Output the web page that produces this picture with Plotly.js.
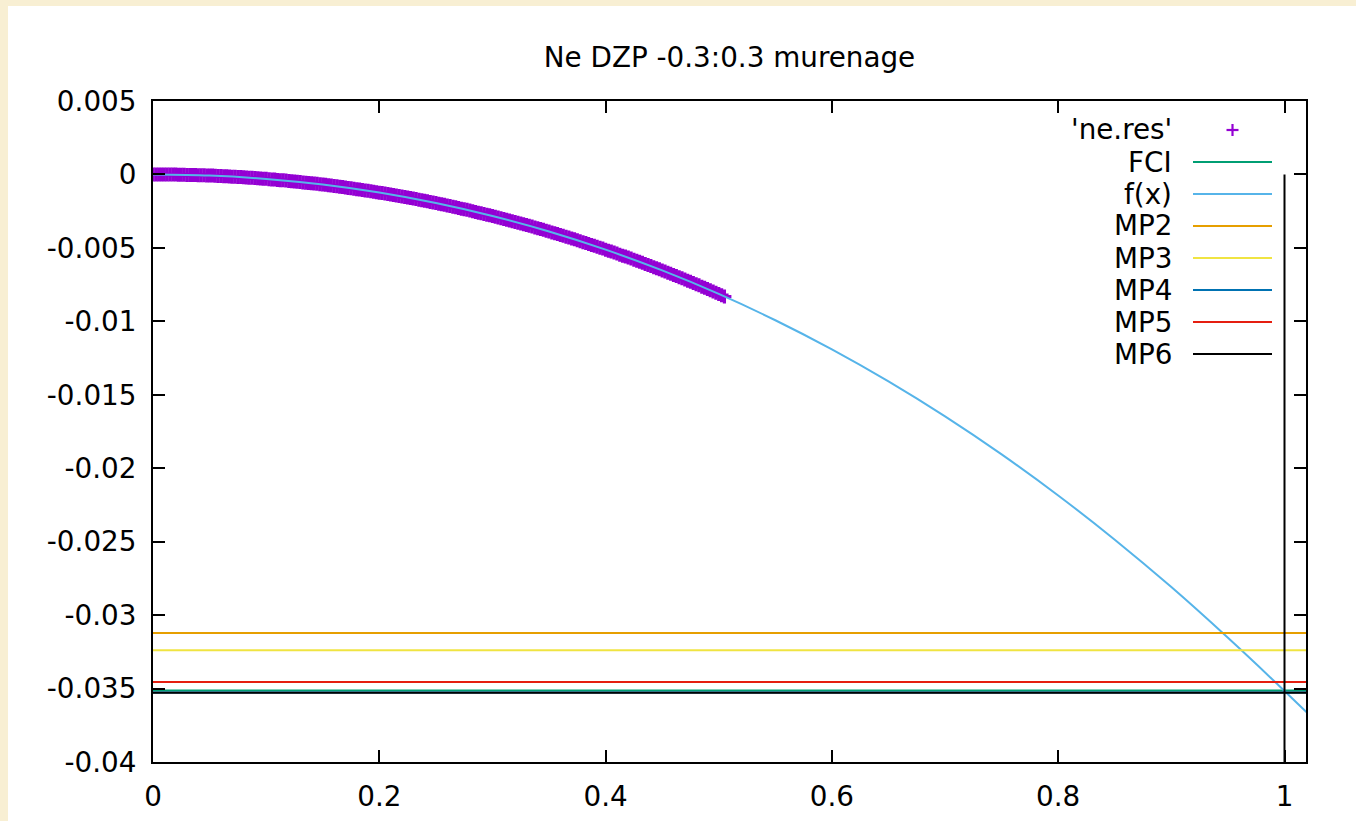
<!DOCTYPE html>
<html>
<head>
<meta charset="utf-8">
<script src="https://cdn.plot.ly/plotly-3.0.1.min.js"></script>
<style>
  html, body { margin: 0; padding: 0; background: #f8efd3; }
  #chart { position: absolute; left: 8px; top: 6px; width: 1348px; height: 815px; background: #fff; }
</style>
</head>
<body>
<div id="chart"></div>
<script>
// Ne DZP correlation energy versus the scaling parameter

// 'ne.res' samples: evenly spaced in x starting at 0 with step 0.0025
const neResX0 = 0;
const neResDx = 0.0025;
const neResY = [
  0, 0, 0, 0, 0, 0, -0.00001, -0.00001, -0.00001, -0.00002,
  -0.00002, -0.00002, -0.00003, -0.00003, -0.00004, -0.00004, -0.00005, -0.00005, -0.00006, -0.00007,
  -0.00008, -0.00008, -0.00009, -0.0001, -0.00011, -0.00012, -0.00013, -0.00014, -0.00015, -0.00016,
  -0.00017, -0.00018, -0.00019, -0.00021, -0.00022, -0.00023, -0.00025, -0.00026, -0.00027, -0.00029,
  -0.0003, -0.00032, -0.00034, -0.00035, -0.00037, -0.00039, -0.0004, -0.00042, -0.00044, -0.00046,
  -0.00048, -0.0005, -0.00052, -0.00054, -0.00056, -0.00058, -0.0006, -0.00062, -0.00064, -0.00067,
  -0.00069, -0.00071, -0.00074, -0.00076, -0.00079, -0.00081, -0.00084, -0.00086, -0.00089, -0.00092,
  -0.00094, -0.00097, -0.001, -0.00103, -0.00106, -0.00109, -0.00111, -0.00114, -0.00118, -0.00121,
  -0.00124, -0.00127, -0.0013, -0.00133, -0.00137, -0.0014, -0.00143, -0.00147, -0.0015, -0.00154,
  -0.00157, -0.00161, -0.00164, -0.00168, -0.00172, -0.00176, -0.00179, -0.00183, -0.00187, -0.00191,
  -0.00195, -0.00199, -0.00203, -0.00207, -0.00211, -0.00215, -0.0022, -0.00224, -0.00228, -0.00233,
  -0.00237, -0.00241, -0.00246, -0.0025, -0.00255, -0.0026, -0.00264, -0.00269, -0.00274, -0.00278,
  -0.00283, -0.00288, -0.00293, -0.00298, -0.00303, -0.00308, -0.00313, -0.00318, -0.00323, -0.00329,
  -0.00334, -0.00339, -0.00344, -0.0035, -0.00355, -0.00361, -0.00366, -0.00372, -0.00377, -0.00383,
  -0.00389, -0.00395, -0.004, -0.00406, -0.00412, -0.00418, -0.00424, -0.0043, -0.00436, -0.00442,
  -0.00448, -0.00454, -0.00461, -0.00467, -0.00473, -0.0048, -0.00486, -0.00492, -0.00499, -0.00505,
  -0.00512, -0.00519, -0.00525, -0.00532, -0.00539, -0.00546, -0.00553, -0.00559, -0.00566, -0.00573,
  -0.0058, -0.00588, -0.00595, -0.00602, -0.00609, -0.00616, -0.00624, -0.00631, -0.00639, -0.00646,
  -0.00654, -0.00661, -0.00669, -0.00676, -0.00684, -0.00692, -0.007, -0.00707, -0.00715, -0.00723,
  -0.00731, -0.00739, -0.00747, -0.00755, -0.00764, -0.00772, -0.0078, -0.00788, -0.00797, -0.00805,
  -0.00814, -0.00822, -0.00831
];

// fitted curve f(x), sampled every 0.05 from 0
const fitX0 = 0;
const fitDx = 0.05;
const fitY = [
  0, -0.000075, -0.000304, -0.00069, -0.001237, -0.00195, -0.002832, -0.003888,
  -0.005121, -0.006535, -0.008135, -0.009925, -0.011908, -0.014088, -0.016469,
  -0.019057, -0.021854, -0.024866, -0.028094, -0.031545, -0.03516, -0.0389
];

// reference energies drawn as horizontal levels
const levelNames = ['FCI', 'MP2', 'MP3', 'MP4', 'MP5', 'MP6'];
const levelValues = [-0.03513, -0.03122, -0.0324, -0.03527, -0.03456, -0.03529];

// marker at x = 1
const markX = [1, 1];
const markY = [0, -0.04];

// axes
const xRange = [0, 1.019];
const yRange = [-0.04, 0.005];
const xTickVals = [0, 0.2, 0.4, 0.6, 0.8, 1];
const xTickText = ['0', '0.2', '0.4', '0.6', '0.8', '1'];
const yTickVals = [0.005, 0, -0.005, -0.01, -0.015, -0.02, -0.025, -0.03, -0.035, -0.04];
const yTickText = ['0.005', '0', '-0.005', '-0.01', '-0.015', '-0.02', '-0.025', '-0.03', '-0.035', '-0.04'];

// key entries, in plotting order
const keyNames = ["'ne.res'", 'FCI', 'f(x)', 'MP2', 'MP3', 'MP4', 'MP5', 'MP6'];
const keyColors = ['#9400d3', '#009e73', '#56b4e9', '#e69f00', '#f0e442', '#0072b2', '#e51e10', '#000000'];

const FONT = 'DejaVu Sans, Verdana, sans-serif';
const FONT_SIZE = 27.8;
const colorOf = name => keyColors[keyNames.indexOf(name)];

const traces = [];

traces.push({
  type: 'scatter', mode: 'markers', name: keyNames[0],
  x0: neResX0, dx: neResDx, y: neResY,
  marker: { symbol: 'cross-thin-open', size: 10, color: keyColors[0],
            line: { color: keyColors[0], width: 3.2 } },
  hoverinfo: 'skip'
});

function levelTrace(name) {
  const v = levelValues[levelNames.indexOf(name)];
  return {
    type: 'scatter', mode: 'lines', name: name,
    x: [xRange[0], xRange[1]], y: [v, v],
    line: { color: colorOf(name), width: 2 },
    hoverinfo: 'skip'
  };
}

traces.push(levelTrace('FCI'));

traces.push({
  type: 'scatter', mode: 'lines', name: 'f(x)',
  x0: fitX0, dx: fitDx, y: fitY,
  line: { color: colorOf('f(x)'), width: 2, shape: 'spline' },
  hoverinfo: 'skip'
});

['MP2', 'MP3', 'MP4', 'MP5', 'MP6'].forEach(n => traces.push(levelTrace(n)));

traces.push({
  type: 'scatter', mode: 'lines', x: markX, y: markY,
  line: { color: '#000', width: 2 }, hoverinfo: 'skip'
});

// key at the upper right: right-aligned labels followed by a sample
const plotTopPx = 101, plotBottomPx = 762, plotLeftPx = 153, plotRightPx = 1306;
const plotH = plotBottomPx - plotTopPx, plotW = plotRightPx - plotLeftPx;
const px2x = p => (p - plotLeftPx) / plotW;
const px2y = p => (plotBottomPx - p) / plotH;
const keyTextRight = 1174, keySampleL = 1193, keySampleR = 1272, keyFirstRow = 130, keyRowStep = 32;

const annotations = [];
const shapes = [];
keyNames.forEach((name, i) => {
  const rowPx = keyFirstRow + i * keyRowStep;
  annotations.push({
    xref: 'paper', yref: 'paper', x: px2x(keyTextRight), y: px2y(rowPx),
    xanchor: 'right', yanchor: 'middle', showarrow: false, text: name,
    font: { family: FONT, size: FONT_SIZE, color: '#000' }
  });
  if (i === 0) {
    const cx = (keySampleL + keySampleR) / 2;
    shapes.push({ type: 'line', xref: 'paper', yref: 'paper',
      x0: px2x(cx - 6), x1: px2x(cx + 6), y0: px2y(rowPx), y1: px2y(rowPx),
      line: { color: keyColors[i], width: 2.2 } });
    shapes.push({ type: 'line', xref: 'paper', yref: 'paper',
      x0: px2x(cx), x1: px2x(cx), y0: px2y(rowPx - 6), y1: px2y(rowPx + 6),
      line: { color: keyColors[i], width: 2.2 } });
  } else {
    shapes.push({ type: 'line', xref: 'paper', yref: 'paper',
      x0: px2x(keySampleL), x1: px2x(keySampleR), y0: px2y(rowPx), y1: px2y(rowPx),
      line: { color: keyColors[i], width: 2 } });
  }
});

const axisCommon = {
  ticks: 'inside', ticklen: 12, tickwidth: 2, tickcolor: '#000',
  showline: true, linewidth: 2, linecolor: '#000', mirror: 'ticks',
  showgrid: false, zeroline: false, tickmode: 'array',
  tickfont: { family: FONT, size: FONT_SIZE, color: '#000' }
};

const layout = {
  width: 1348, height: 815,
  margin: { l: 145, r: 50, t: 95, b: 59 },
  paper_bgcolor: '#ffffff', plot_bgcolor: '#ffffff',
  showlegend: false,
  title: {
    text: 'Ne DZP -0.3:0.3 murenage',
    font: { family: FONT, size: FONT_SIZE, color: '#000' },
    x: 0.5, xref: 'paper', y: 1 - 51 / 815, yref: 'container', yanchor: 'middle'
  },
  xaxis: Object.assign({}, axisCommon, {
    range: xRange, tickvals: xTickVals, ticktext: xTickText, ticklabelstandoff: 9
  }),
  yaxis: Object.assign({}, axisCommon, {
    range: yRange, tickvals: yTickVals, ticktext: yTickText, ticklabelstandoff: 9
  }),
  annotations: annotations,
  shapes: shapes
};

Plotly.newPlot('chart', traces, layout, { staticPlot: true, displayModeBar: false });
</script>
</body>
</html>
